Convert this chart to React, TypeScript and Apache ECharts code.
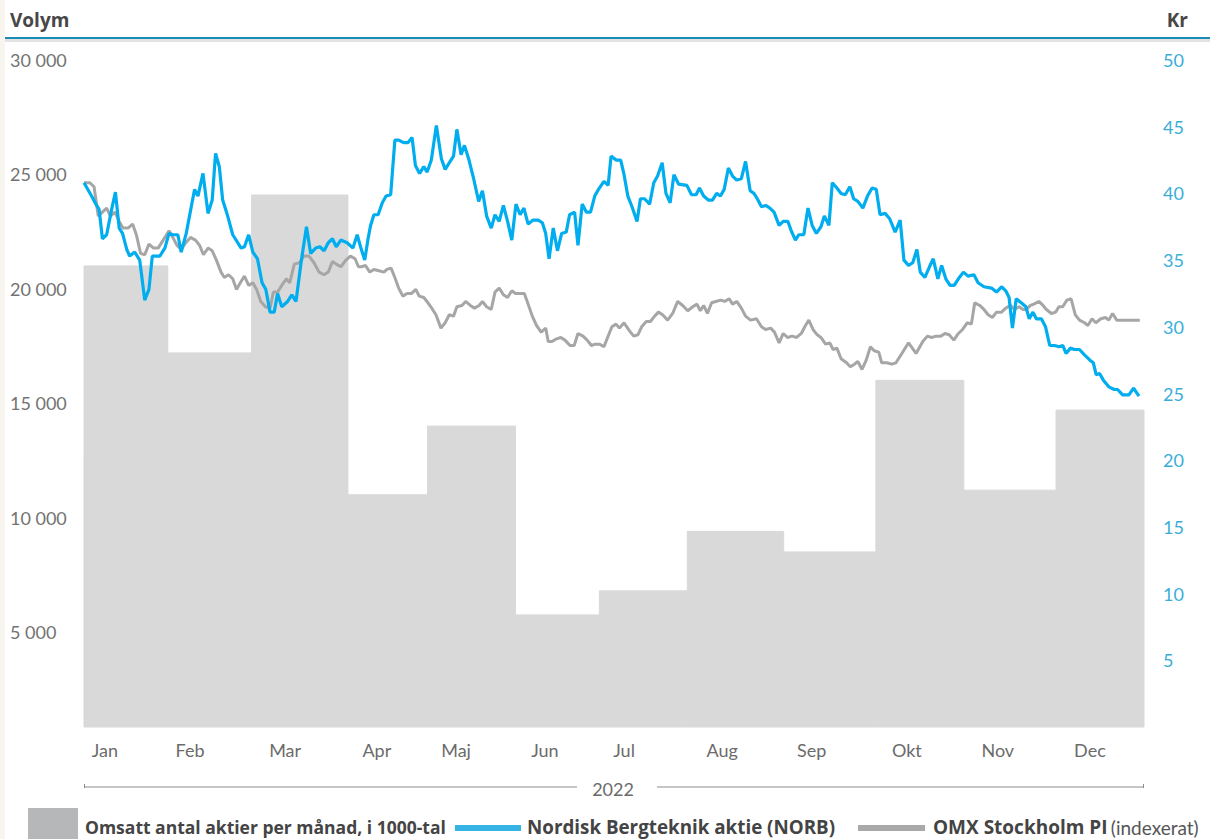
import React, { useEffect, useRef } from "react";
import * as echarts from "echarts";

const monthNames = ["Jan", "Feb", "Mar", "Apr", "Maj", "Jun", "Jul", "Aug", "Sep", "Okt", "Nov", "Dec"];
const monthTradingDays = [20, 20, 23, 19, 21, 20, 21, 23, 22, 21, 22, 21];
const monthLabelDay = [5, 25.3, 48, 69.9, 88.8, 110, 128.9, 152.3, 173.7, 196.4, 218.1, 240.1];
const monthlyVolume = [21000, 17200, 24100, 11000, 14000, 5750, 6800, 9400, 8500, 16000, 11200, 14700];
const volumeTicks = [5000, 10000, 15000, 20000, 25000, 30000];
const VOL_MIN = 850;
const VOL_MAX = 30000;
const KR_MAX = 50;
const KR_STEP = 5;
const yearLabel = "2022";

// [trading day of 2022, value in kr]
const norbKr: [number, number][] = [
  [0, 40.8], [1.8, 39.8], [3.0, 39.1], [3.6, 38.8], [4.4, 36.6], [5.4, 36.9], [6.6, 38.8], [7.5, 40.1], [8.4, 37.4], [9.2, 37.0],
  [10.2, 35.8], [10.9, 35.3], [12.1, 35.6], [13.3, 35.0], [14.5, 32.0], [15.5, 32.8], [16.3, 35.3], [18.1, 35.3], [19.3, 35.9], [20.3, 37.0],
  [21.2, 36.9], [22.4, 36.9], [23.2, 35.6], [24.4, 37.0], [25.6, 39.0], [26.4, 40.3], [27.2, 39.8], [28.4, 41.5], [29.6, 38.5], [30.6, 39.5],
  [31.4, 43.0], [32.3, 42.0], [33.1, 39.5], [34.3, 38.3], [35.5, 36.9], [37.5, 35.9], [38.3, 36.0], [39.3, 36.9], [40.3, 35.6], [41.4, 35.1],
  [42.5, 33.3], [43.4, 32.8], [44.4, 31.1], [45.4, 31.1], [46.2, 32.5], [47.2, 31.5], [48.6, 31.9], [49.6, 32.4], [50.6, 31.9], [51.8, 34.8],
  [53.1, 37.5], [54.1, 35.5], [55.3, 35.9], [56.3, 36.0], [57.3, 35.7], [58.3, 36.3], [59.3, 36.6], [60.2, 36.0], [61.3, 36.5], [62.8, 36.3],
  [64.2, 35.9], [65.2, 36.9], [66.0, 36.0], [67.0, 35.0], [67.8, 36.6], [68.4, 37.6], [69.2, 38.4], [70.2, 38.4], [71.2, 39.3], [72.1, 39.8],
  [73.2, 39.9], [74.2, 44.0], [75.1, 44.0], [76.3, 43.8], [77.3, 43.8], [78.3, 44.2], [79.1, 42.1], [80.1, 41.5], [81.1, 42.0], [81.9, 41.6],
  [82.9, 42.5], [84.1, 45.1], [85.3, 42.6], [86.2, 41.8], [87.4, 42.4], [88.2, 42.8], [89.0, 44.8], [90.0, 42.9], [90.8, 43.6], [91.8, 42.6],
  [93.0, 41.1], [94.2, 39.4], [95.1, 40.2], [96.1, 38.3], [97.2, 37.4], [98.1, 38.4], [99.1, 37.9], [100.1, 39.1], [101.1, 37.9], [102.1, 36.5],
  [103.1, 39.2], [104.1, 38.4], [105.0, 38.9], [106.0, 37.7], [107.2, 38.0], [108.4, 38.0], [109.4, 37.8], [110.2, 37.0], [111.0, 35.1], [112.0, 37.4],
  [113.0, 35.7], [114.0, 37.0], [115.1, 37.1], [115.9, 38.4], [117.1, 38.6], [117.9, 36.1], [118.9, 39.2], [119.9, 38.6], [120.9, 38.6], [121.9, 39.8],
  [122.8, 40.3], [124.1, 40.9], [125.1, 40.6], [125.8, 42.8], [127.0, 42.5], [128.1, 42.5], [128.9, 41.4], [129.8, 39.8], [130.8, 39.0], [132.0, 37.9],
  [132.8, 39.6], [133.8, 39.6], [135.0, 39.2], [136.0, 40.8], [136.9, 41.3], [138.0, 42.3], [138.9, 40.0], [139.9, 39.3], [140.8, 41.4], [141.9, 40.7],
  [143.9, 40.6], [145.0, 39.9], [146.1, 39.9], [146.9, 40.4], [147.9, 39.8], [149.0, 39.5], [150.0, 39.5], [151.0, 40.0], [151.9, 39.8], [152.8, 40.3],
  [153.8, 41.9], [154.8, 41.3], [155.8, 41.0], [156.9, 41.1], [157.9, 42.4], [159.0, 40.2], [159.9, 40.0], [160.7, 39.6], [161.7, 39.0], [162.7, 39.1],
  [163.7, 38.9], [164.7, 38.6], [165.9, 37.6], [166.9, 37.9], [168.0, 37.9], [168.8, 37.2], [169.8, 36.5], [170.6, 36.9], [171.8, 36.9], [172.8, 38.9],
  [173.8, 37.6], [174.8, 37.0], [175.9, 37.5], [176.7, 38.3], [177.8, 37.6], [178.6, 40.8], [179.7, 40.4], [180.7, 40.0], [181.7, 39.9], [182.8, 40.5],
  [183.7, 39.6], [184.7, 39.4], [185.9, 38.9], [187.0, 39.8], [188.1, 40.4], [189.1, 40.3], [190.0, 38.4], [191.2, 38.5], [192.3, 38.1], [193.6, 37.1],
  [194.8, 38.0], [195.7, 35.0], [196.8, 34.6], [197.8, 34.8], [198.8, 35.8], [199.6, 34.1], [200.7, 33.7], [201.8, 34.5], [202.7, 35.1], [203.8, 33.6],
  [204.7, 34.6], [205.7, 33.6], [206.7, 33.1], [207.7, 33.1], [208.7, 33.6], [209.9, 34.1], [211.0, 33.8], [212.4, 33.9], [213.4, 33.3], [214.8, 33.0],
  [216.6, 32.9], [217.8, 32.6], [219.0, 33.0], [220.0, 32.7], [220.8, 32.2], [221.6, 29.9], [222.5, 32.1], [223.7, 31.8], [224.8, 31.5], [225.6, 30.6],
  [226.5, 31.1], [227.3, 30.6], [228.5, 30.6], [229.5, 30.0], [230.5, 28.6], [231.6, 28.6], [232.8, 28.5], [233.6, 28.6], [234.4, 28.0], [235.4, 28.4],
  [236.4, 28.3], [237.6, 28.3], [238.8, 27.9], [240.1, 27.5], [240.9, 27.3], [241.6, 26.4], [242.4, 26.5], [243.3, 26.0], [244.6, 25.5], [245.9, 25.3],
  [246.7, 25.3], [247.9, 24.9], [249.4, 24.9], [250.5, 25.4], [251.8, 24.8],
];

// [trading day of 2022, OMX Stockholm PI indexed to NORB in kr]
const omxIndexed: [number, number][] = [
  [0, 40.8], [1.4, 40.8], [2.4, 40.5], [3.4, 38.3], [4.4, 38.6], [5.4, 38.9], [6.3, 38.3], [7.4, 38.6], [8.4, 37.9], [9.3, 37.4],
  [10.5, 37.4], [11.6, 37.7], [12.5, 36.9], [13.5, 35.5], [14.5, 35.4], [15.5, 36.2], [16.6, 35.9], [17.7, 35.9], [18.9, 36.5], [20.3, 37.2],
  [21.2, 36.7], [22.2, 36.1], [23.2, 35.8], [24.3, 36.3], [25.4, 36.7], [26.6, 36.5], [27.6, 36.1], [28.5, 35.4], [29.6, 35.9], [30.6, 35.7],
  [31.6, 35.0], [32.7, 34.1], [33.5, 33.7], [34.5, 33.9], [35.5, 33.6], [36.4, 32.8], [37.3, 33.3], [38.3, 33.8], [39.3, 33.1], [40.3, 33.3],
  [41.2, 32.8], [42.2, 31.9], [43.3, 31.5], [44.4, 31.4], [45.2, 32.6], [46.2, 32.6], [47.2, 33.1], [48.3, 33.6], [49.1, 33.3], [50.2, 34.7],
  [51.4, 34.8], [52.5, 35.3], [53.7, 35.3], [54.9, 34.8], [56.1, 34.1], [57.3, 33.9], [58.3, 34.1], [59.3, 34.9], [60.2, 34.7], [61.3, 34.5],
  [62.5, 35.0], [63.6, 35.3], [64.7, 35.1], [65.5, 34.5], [66.3, 34.5], [67.2, 34.6], [68.2, 34.1], [69.2, 34.3], [70.4, 34.2], [71.6, 34.1],
  [72.3, 34.3], [73.3, 34.4], [74.3, 33.6], [75.1, 32.9], [76.1, 32.3], [77.1, 32.5], [78.2, 32.5], [79.2, 32.8], [80.0, 32.3], [81.1, 32.2],
  [82.1, 31.8], [83.2, 31.3], [84.0, 30.9], [85.2, 29.9], [86.2, 30.3], [87.2, 30.9], [88.2, 30.8], [89.0, 31.5], [90.2, 31.6], [91.1, 31.9],
  [92.2, 31.6], [93.2, 31.4], [94.3, 31.6], [95.1, 31.9], [96.1, 31.5], [97.2, 31.3], [98.1, 32.6], [99.1, 32.9], [100.1, 32.4], [101.1, 32.2],
  [102.1, 32.7], [103.0, 32.5], [104.3, 32.5], [105.1, 32.5], [106.0, 31.7], [107.0, 30.8], [108.0, 30.1], [109.1, 29.6], [110.2, 29.9], [110.8, 28.9],
  [111.7, 28.9], [112.8, 29.1], [113.8, 29.2], [114.8, 29.0], [116.0, 28.6], [117.0, 28.6], [117.9, 29.5], [119.1, 29.3], [120.1, 29.0], [121.1, 28.6],
  [122.0, 28.7], [123.1, 28.7], [124.1, 28.5], [125.1, 29.3], [126.0, 30.0], [127.0, 30.2], [127.8, 29.9], [128.9, 30.3], [130.2, 29.7], [131.2, 29.3],
  [132.2, 29.4], [133.1, 30.0], [134.2, 30.4], [135.2, 30.4], [136.2, 30.8], [137.1, 31.1], [138.1, 30.9], [139.3, 30.5], [140.5, 31.0], [141.7, 31.9],
  [142.9, 31.6], [144.1, 31.2], [145.3, 31.5], [146.3, 31.7], [147.1, 31.2], [147.9, 31.6], [148.8, 31.0], [149.8, 31.8], [150.8, 31.9], [152.0, 32.0],
  [152.9, 31.9], [154.0, 32.1], [154.8, 31.7], [155.8, 31.9], [156.9, 31.4], [157.9, 30.8], [159.1, 30.5], [160.5, 30.6], [161.7, 30.0], [162.7, 29.8],
  [163.9, 29.9], [164.8, 29.6], [165.9, 28.8], [166.9, 29.5], [167.9, 29.2], [169.0, 29.3], [170.1, 29.2], [171.2, 29.5], [172.2, 30.1], [173.0, 30.5],
  [174.0, 29.8], [175.0, 29.4], [175.9, 29.2], [177.0, 28.7], [178.0, 28.8], [178.8, 28.3], [179.7, 28.4], [180.7, 27.6], [182.0, 27.3], [182.9, 27.0],
  [183.9, 27.2], [184.7, 27.4], [185.7, 26.8], [186.7, 27.5], [187.7, 28.5], [188.6, 28.2], [189.7, 28.1], [190.4, 27.3], [191.6, 27.3], [192.8, 27.2],
  [193.8, 27.3], [195.2, 28.0], [196.8, 28.8], [198.6, 28.0], [200.2, 28.9], [201.3, 29.3], [202.3, 29.2], [203.4, 29.3], [204.5, 29.3], [205.5, 29.5],
  [206.5, 29.4], [207.6, 29.0], [208.7, 29.5], [209.7, 29.8], [210.8, 30.3], [211.8, 30.2], [212.6, 31.8], [213.8, 31.6], [214.8, 31.3], [215.8, 30.9],
  [216.8, 30.7], [217.8, 31.1], [219.0, 31.1], [220.0, 31.4], [221.1, 31.6], [222.1, 31.3], [223.2, 31.5], [224.1, 31.3], [224.9, 31.3], [225.9, 31.6],
  [226.7, 31.7], [227.9, 31.9], [228.9, 31.6], [229.7, 31.3], [230.9, 31.0], [231.9, 31.1], [232.7, 31.5], [233.6, 31.5], [234.6, 32.0], [235.6, 32.1],
  [236.6, 30.9], [237.6, 30.5], [238.8, 30.3], [239.6, 30.1], [240.6, 30.6], [241.5, 30.3], [242.7, 30.6], [243.8, 30.7], [244.6, 30.5], [245.5, 31.0],
  [246.5, 30.5], [247.9, 30.5], [249.9, 30.5], [252.0, 30.5],
];

const FONT = "Lato, 'Open Sans', sans-serif";
const BOLD_FONT = "'Open Sans', Lato, sans-serif";
const BLUE = "#00adee";
const GREY_LINE = "#a6a6a6";
const BAR_GREY = "#d9d9d9";

const monthStarts: number[] = [];
{
  let acc = 0;
  for (const d of monthTradingDays) {
    monthStarts.push(acc);
    acc += d;
  }
}
const totalDays = monthTradingDays.reduce((a, b) => a + b, 0);
const volumeRows = monthlyVolume.map((v, i) => [monthStarts[i], monthStarts[i] + monthTradingDays[i], v]);

const fmtThousands = (v: number) => String(Math.round(v)).replace(/\B(?=(\d{3})+(?!\d))/g, " ");

export default function App() {
  const ref = useRef<HTMLDivElement>(null);

  useEffect(() => {
    if (!ref.current) return;
    const chart = echarts.init(ref.current, undefined, { renderer: "svg" });
    const gridLeft = 84;
    const gridRight = 66;
    const W = 1210;
    const LEG_Y = 827;

    chart.setOption({
      animation: false,
      backgroundColor: "#ffffff",
      grid: { left: gridLeft, right: gridRight, top: 60, bottom: 112, containLabel: false },
      xAxis: {
        type: "value",
        min: 0,
        max: totalDays,
        axisLine: { show: false },
        axisTick: { show: false },
        splitLine: { show: false },
        axisLabel: {
          customValues: monthLabelDay,
          color: "#6b6b6b",
          fontFamily: FONT,
          fontSize: 18,
          margin: 14,
          formatter: (v: number) => {
            const idx = monthLabelDay.findIndex((d) => Math.abs(d - v) < 0.01);
            return idx >= 0 ? monthNames[idx] : "";
          },
        },
      },
      yAxis: [
        {
          type: "value",
          min: VOL_MIN,
          max: VOL_MAX,
          position: "left",
          axisLine: { show: false },
          axisTick: { show: false },
          splitLine: { show: false },
          axisLabel: {
            customValues: volumeTicks,
            align: "left",
            margin: 74,
            color: "#737373",
            fontFamily: FONT,
            fontSize: 18,
            formatter: (v: number) => fmtThousands(v),
          },
        },
        {
          type: "value",
          min: 0,
          max: KR_MAX,
          interval: KR_STEP,
          position: "right",
          axisLine: { show: false },
          axisTick: { show: false },
          splitLine: { show: false },
          axisLabel: {
            showMinLabel: false,
            align: "left",
            margin: 19,
            color: "#3aaed8",
            fontFamily: FONT,
            fontSize: 18,
            formatter: (v: number) => (v === 0 ? "" : String(v)),
          },
        },
      ],
      series: [
        {
          type: "custom",
          name: "Omsatt antal aktier per månad, i 1000-tal",
          xAxisIndex: 0,
          yAxisIndex: 0,
          data: volumeRows,
          encode: { x: [0, 1], y: 2 },
          renderItem: (_params: any, api: any) => {
            const tl = api.coord([api.value(0), api.value(2)]);
            const br = api.coord([api.value(1), VOL_MIN]);
            return {
              type: "rect",
              shape: { x: tl[0], y: tl[1], width: br[0] - tl[0], height: br[1] - tl[1] },
              style: { fill: BAR_GREY, stroke: BAR_GREY, lineWidth: 1 },
            };
          },
          z: 1,
        },
        {
          type: "line",
          name: "OMX Stockholm PI",
          yAxisIndex: 1,
          data: omxIndexed,
          showSymbol: false,
          symbol: "none",
          lineStyle: { color: GREY_LINE, width: 3 },
          z: 2,
        },
        {
          type: "line",
          name: "Nordisk Bergteknik aktie (NORB)",
          yAxisIndex: 1,
          data: norbKr,
          showSymbol: false,
          symbol: "none",
          lineStyle: { color: BLUE, width: 3.2 },
          z: 3,
        },
      ],
      graphic: [
        { type: "rect", left: 0, top: 0, shape: { width: 5, height: 839 }, style: { fill: "#f8f5ef" }, silent: true },
        { type: "rect", shape: { x: 5, y: 39, width: W - 5, height: 3 }, style: { fill: "#e3e3e3" }, silent: true },
        { type: "rect", shape: { x: 5, y: 37, width: W - 5, height: 2 }, style: { fill: "#1b8db5" }, silent: true },
        {
          type: "text",
          x: 10,
          y: 20,
          style: { text: "Volym", fill: "#474747", font: `bold 19px ${BOLD_FONT}`, textVerticalAlign: "middle" },
        },
        {
          type: "text",
          x: 1188,
          y: 20,
          style: { text: "Kr", fill: "#474747", font: `bold 19px ${BOLD_FONT}`, textAlign: "right", textVerticalAlign: "middle" },
        },
        // year bracket
        { type: "line", shape: { x1: gridLeft, y1: 787, x2: 577, y2: 787 }, style: { stroke: "#8c8c8c", lineWidth: 1 } },
        { type: "line", shape: { x1: 657, y1: 787, x2: W - gridRight, y2: 787 }, style: { stroke: "#8c8c8c", lineWidth: 1 } },
        { type: "line", shape: { x1: gridLeft + 0.5, y1: 784, x2: gridLeft + 0.5, y2: 788 }, style: { stroke: "#8c8c8c", lineWidth: 1 } },
        { type: "line", shape: { x1: W - gridRight - 0.5, y1: 784, x2: W - gridRight - 0.5, y2: 788 }, style: { stroke: "#8c8c8c", lineWidth: 1 } },
        {
          type: "text",
          x: 613,
          y: 789,
          style: { text: yearLabel, fill: "#6b6b6b", font: `18px ${FONT}`, textAlign: "center", textVerticalAlign: "middle" },
        },
        // legend
        { type: "rect", shape: { x: 28, y: 808, width: 50, height: 31 }, style: { fill: "#b5b7b9" } },
        {
          type: "text",
          x: 85,
          y: LEG_Y,
          style: {
            text: "Omsatt antal aktier per månad, i 1000-tal",
            fill: "#444444",
            font: `bold 17.5px ${BOLD_FONT}`,
            lineHeight: 18,
            textVerticalAlign: "middle",
          },
        },
        { type: "rect", shape: { x: 455, y: 825, width: 66, height: 6 }, style: { fill: "#38b4e4" } },
        {
          type: "text",
          x: 527,
          y: LEG_Y,
          style: {
            text: "Nordisk Bergteknik aktie (NORB)",
            fill: "#444444",
            font: `bold 18.8px ${BOLD_FONT}`,
            lineHeight: 18,
            textVerticalAlign: "middle",
          },
        },
        { type: "rect", shape: { x: 858, y: 825, width: 67, height: 6 }, style: { fill: "#a9a9a9" } },
        {
          type: "text",
          x: 933,
          y: LEG_Y,
          style: {
            text: "{b|OMX Stockholm PI} {n|(indexerat)}",
            textVerticalAlign: "middle",
            rich: {
              b: { fill: "#444444", font: `bold 19px ${BOLD_FONT}`, lineHeight: 18 },
              n: { fill: "#555555", font: `19px ${FONT}`, lineHeight: 18 },
            },
          },
        },
      ],
    });

    return () => chart.dispose();
  }, []);

  return <div ref={ref} style={{ position: "absolute", left: 0, top: 0, width: 1210, height: 839 }} />;
}
